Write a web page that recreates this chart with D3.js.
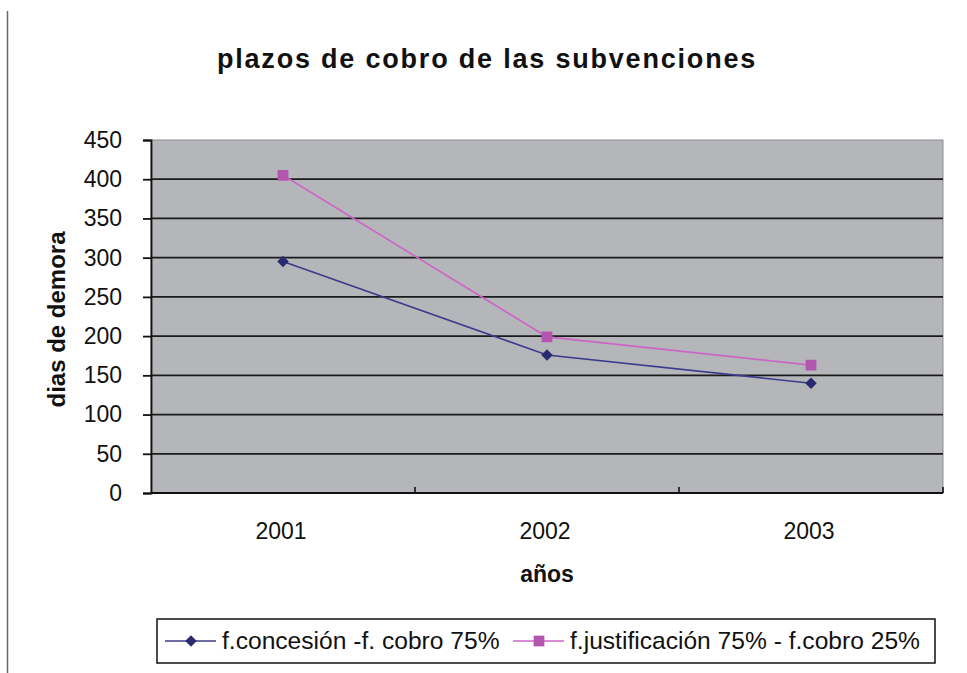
<!DOCTYPE html>
<html>
<head>
<meta charset="utf-8">
<script src="https://cdn.jsdelivr.net/npm/d3@7"></script>
<style>
  body { margin: 0; background: #fff; }
  svg { display: block; }
  text { font-family: "Liberation Sans", Arial, sans-serif; fill: #111; }
</style>
</head>
<body>
<svg width="967" height="673"></svg>
<script>
const years = ["2001", "2002", "2003"]
const concesion = [295, 176, 140]
const justificacion = [405, 199, 163]
const y_ticks = [0, 50, 100, 150, 200, 250, 300, 350, 400, 450]
const series_names = ["f.concesión -f. cobro 75%", "f.justificación 75% - f.cobro 25%"]

const plot = { left: 151, top: 140, right: 943, bottom: 493 }
const tick_font = 23
const legend_font = 24.6
const navy_line = "#3b3b8c"
const navy_mark = "#2a2a6e"
const pink_line = "#cc66c6"
const pink_mark = "#b455b0"

const svg = d3.select("svg")

// border at the left of the picture
svg.append("line")
    .attr("x1", 7.5).attr("x2", 7.5)
    .attr("y1", 11).attr("y2", 673)
    .attr("stroke", "#666").attr("stroke-width", 1.5)

const x = d3.scaleBand().domain(years).range([plot.left, plot.right])
const y = d3.scaleLinear().domain([0, 450]).range([plot.bottom, plot.top])

// plot area
svg.append("rect")
    .attr("x", plot.left).attr("y", plot.top)
    .attr("width", plot.right - plot.left).attr("height", plot.bottom - plot.top)
    .attr("fill", "#b5b6ba")
    .attr("stroke", "#8e8e8e").attr("stroke-width", 1)

// gridlines
svg.append("g")
    .selectAll("line")
    .data(y_ticks.filter(t => t > 0 && t < 450))
    .enter()
    .append("line")
    .attr("x1", plot.left).attr("x2", plot.right)
    .attr("y1", d => y(d)).attr("y2", d => y(d))
    .attr("stroke", "#1b1b1b").attr("stroke-width", 1.8)

// y axis
const y_axis = svg.append("g")
    .attr("transform", `translate(${plot.left},0)`)
    .call(d3.axisLeft(y).tickValues(y_ticks).tickSize(8).tickPadding(21))
y_axis.select(".domain").attr("stroke", "#111").attr("stroke-width", 1.8)
y_axis.selectAll(".tick line").attr("stroke", "#111").attr("stroke-width", 1.8)
y_axis.selectAll("text")
    .attr("font-size", tick_font)
    .attr("font-family", "Liberation Sans, Arial, sans-serif")
    .attr("fill", "#111")

// x axis, ticks between categories pointing up
const x_axis = svg.append("g")
    .attr("transform", `translate(0,${plot.bottom})`)
x_axis.append("line")
    .attr("x1", plot.left).attr("x2", plot.right)
    .attr("stroke", "#111").attr("stroke-width", 1.8)
x_axis.selectAll(".sep")
    .data(years)
    .enter()
    .append("line")
    .attr("class", "sep")
    .attr("x1", d => x(d) + x.bandwidth()).attr("x2", d => x(d) + x.bandwidth())
    .attr("y1", 0).attr("y2", -6)
    .attr("stroke", "#111").attr("stroke-width", 1.6)
x_axis.selectAll("text")
    .data(years)
    .enter()
    .append("text")
    .attr("x", d => x(d) + x.bandwidth() / 2 - 2)
    .attr("y", 46)
    .attr("text-anchor", "middle")
    .attr("font-size", tick_font)
    .text(d => d)

const cx = d => x(d) + x.bandwidth() / 2
const line = d3.line().x((d, i) => cx(years[i])).y(d => y(d))

// series lines
svg.append("path")
    .attr("d", line(concesion))
    .attr("fill", "none").attr("stroke", navy_line).attr("stroke-width", 1.6)
svg.append("path")
    .attr("d", line(justificacion))
    .attr("fill", "none").attr("stroke", pink_line).attr("stroke-width", 1.6)

const diamond = d3.symbol().type(d3.symbolDiamond2).size(85)
const square = d3.symbol().type(d3.symbolSquare).size(115)

svg.selectAll(".m1")
    .data(concesion)
    .enter()
    .append("path")
    .attr("class", "m1")
    .attr("transform", (d, i) => `translate(${cx(years[i])},${y(d)})`)
    .attr("d", diamond)
    .attr("fill", navy_mark)
svg.selectAll(".m2")
    .data(justificacion)
    .enter()
    .append("path")
    .attr("class", "m2")
    .attr("transform", (d, i) => `translate(${cx(years[i])},${y(d)})`)
    .attr("d", square)
    .attr("fill", pink_mark)

// titles
svg.append("text")
    .attr("x", 487).attr("y", 68)
    .attr("text-anchor", "middle")
    .attr("font-size", 27).attr("font-weight", "bold")
    .attr("letter-spacing", 1.8)
    .text("plazos de cobro de las subvenciones")

svg.append("text")
    .attr("transform", `translate(65,${(plot.top + plot.bottom) / 2 + 3}) rotate(-90)`)
    .attr("text-anchor", "middle")
    .attr("font-size", 24).attr("font-weight", "bold")
    .text("dias de demora")

svg.append("text")
    .attr("x", (plot.left + plot.right) / 2).attr("y", 582)
    .attr("text-anchor", "middle")
    .attr("font-size", 23).attr("font-weight", "bold")
    .text("años")

// legend
const legend = svg.append("g")
legend.append("rect")
    .attr("x", 157).attr("y", 619)
    .attr("width", 778).attr("height", 44)
    .attr("fill", "#fff").attr("stroke", "#111").attr("stroke-width", 1.5)

const legend_x = [165, 513]
const legend_items = legend.selectAll(".item")
    .data(series_names)
    .enter()
    .append("g")
    .attr("class", "item")
    .attr("transform", (d, i) => `translate(${legend_x[i]},641)`)
legend_items.append("line")
    .attr("x1", 0).attr("x2", 51)
    .attr("stroke", (d, i) => i === 0 ? navy_line : pink_line)
    .attr("stroke-width", 1.6)
legend_items.append("path")
    .attr("transform", "translate(26,0)")
    .attr("d", (d, i) => i === 0 ? diamond() : square())
    .attr("fill", (d, i) => i === 0 ? navy_mark : pink_mark)
legend_items.append("text")
    .attr("x", 57).attr("y", 8)
    .attr("font-size", legend_font)
    .text(d => d)
</script>
</body>
</html>
